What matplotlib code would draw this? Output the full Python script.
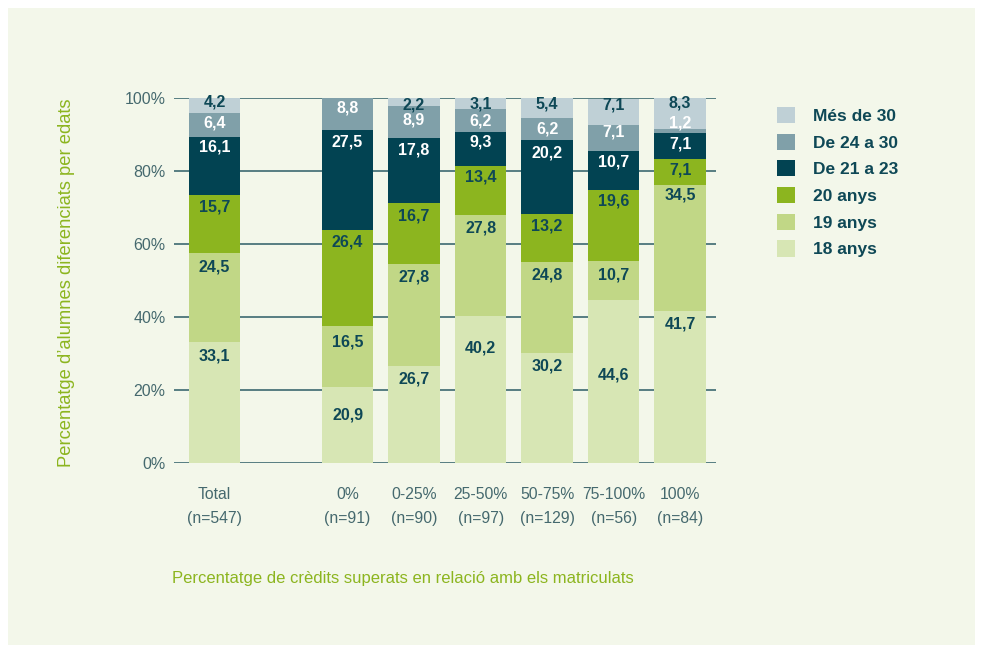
import matplotlib.pyplot as plt
from matplotlib.patches import Rectangle, Patch

plt.rcParams['font.family'] = ['Liberation Sans', 'DejaVu Sans']

# Columns (Total first, then credit ranges)
groups = ["Total\n(n=547)", "0%\n(n=91)", "0-25%\n(n=90)", "25-50%\n(n=97)",
          "50-75%\n(n=129)", "75-100%\n(n=56)", "100%\n(n=84)"]
series = ["18 anys", "19 anys", "20 anys", "De 21 a 23", "De 24 a 30", "Més de 30"]

age_18 = [33.1, 20.9, 26.7, 40.2, 30.2, 44.6, 41.7]
age_19 = [24.5, 16.5, 27.8, 27.8, 24.8, 10.7, 34.5]
age_20 = [15.7, 26.4, 16.7, 13.4, 13.2, 19.6, 7.1]
age_21_23 = [16.1, 27.5, 17.8, 9.3, 20.2, 10.7, 7.1]
age_24_30 = [6.4, 8.8, 8.9, 6.2, 6.2, 7.1, 1.2]
age_30_plus = [4.2, 0.0, 2.2, 3.1, 5.4, 7.1, 8.3]
values = [age_18, age_19, age_20, age_21_23, age_24_30, age_30_plus]

# label placement: how far (in % points) below the top of its segment each value sits
label_drop = [
    [3.8, 7.8, 3.6, 8.8, 3.6, 20.5, 3.6],
    [3.9, 4.2, 3.6, 3.5, 3.4, 3.8, 2.8],
    [3.1, 3.2, 3.4, 3.0, 3.3, 3.1, 3.0],
    [2.7, 3.3, 3.3, 2.7, 3.4, 3.1, 3.1],
    [2.6, 2.8, 3.9, 3.2, 3.1, 1.9, -1.5],
    [1.0, 0.0, 2.0, 1.7, 1.6, 1.7, 1.4],
]

colors = ["#d7e6b4", "#c1d786", "#8cb51f", "#024352", "#80a0a9", "#bfd0d6"]
text_colors = ["#0e4856", "#0e4856", "#0e4856", "white", "white", "#0e4856"]
dark = "#0e4856"
tick_col = "#45696e"
green = "#8cb51f"
panel = "#f3f7ea"

x_pos = [0, 2, 3, 4, 5, 6, 7]

fig = plt.figure(figsize=(9.83, 6.53), dpi=100)
fig.patch.set_facecolor("white")
fig.patches.append(Rectangle((8 / 983, 8 / 653), 967 / 983, 637 / 653,
                             transform=fig.transFigure, facecolor=panel,
                             edgecolor="none", zorder=-10))

ax = fig.add_axes([174 / 983, 1 - 463 / 653, (716 - 174) / 983, (463 - 98) / 653])
ax.set_facecolor("none")

bottom = [0.0] * len(groups)
for i, vals in enumerate(values):
    ax.bar(x_pos, vals, width=0.77, bottom=bottom, color=colors[i],
           edgecolor="none", zorder=3, label=series[i])
    for j, v in enumerate(vals):
        if v <= 0:
            continue
        top = bottom[j] + v
        ax.text(x_pos[j], top - label_drop[i][j], f"{v:.1f}".replace(".", ","),
                ha="center", va="center", fontsize=11.5, fontweight="bold",
                color=text_colors[i], zorder=4)
    bottom = [b + v for b, v in zip(bottom, vals)]

ax.set_xlim(-0.61, 7.54)
ax.set_ylim(0, 100)
yt = [0, 20, 40, 60, 80, 100]
ax.set_yticks(yt)
ax.set_yticklabels([f"{t}%" for t in yt], fontsize=11.5, color=tick_col)
for t in yt:
    ax.axhline(t, color="#2c5d66", linewidth=1.1, zorder=1)
ax.set_xticks(x_pos)
ax.set_xticklabels(groups, fontsize=11.3, color=tick_col, linespacing=1.75)
ax.tick_params(axis="both", length=0)
ax.tick_params(axis="x", pad=17)
ax.tick_params(axis="y", pad=6)
for s in ax.spines.values():
    s.set_visible(False)

fig.text(403 / 983, 1 - 578 / 653, "Percentatge de crèdits superats en relació amb els matriculats",
         ha="center", va="center", fontsize=12, color=green)
fig.text(67 / 983, 1 - 283 / 653, "Percentatge d’alumnes diferenciats per edats",
         ha="center", va="center", rotation=90, fontsize=13.2, color=green)

handles = [Patch(facecolor=colors[i], edgecolor="none") for i in range(len(series))][::-1]
leg = fig.legend(handles, series[::-1], loc="upper left",
                 bbox_to_anchor=(777 / 983, 1 - 107 / 653), frameon=False,
                 borderpad=0, borderaxespad=0, handlelength=1.05, handleheight=1.05,
                 handletextpad=1.0, labelspacing=0.56, fontsize=12.5)
for t in leg.get_texts():
    t.set_color(dark)
    t.set_fontweight("bold")

fig.savefig("out.png", dpi=100, facecolor=fig.get_facecolor())
